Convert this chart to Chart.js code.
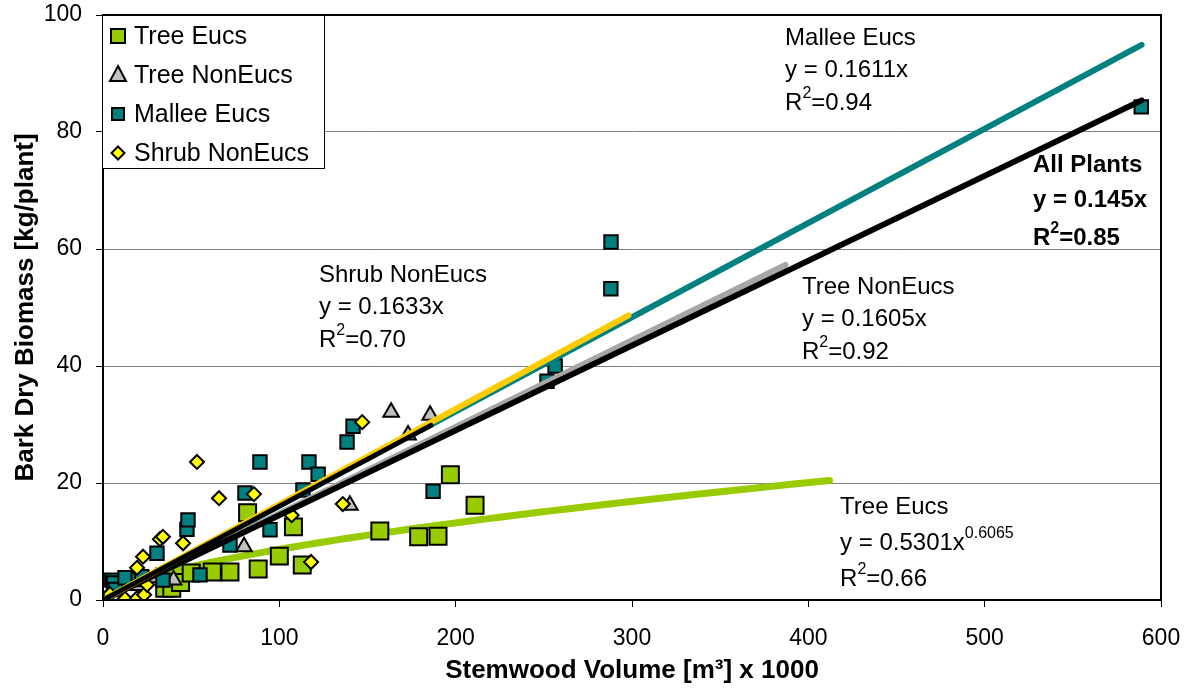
<!DOCTYPE html>
<html>
<head>
<meta charset="utf-8">
<title>Bark Dry Biomass vs Stemwood Volume</title>
<script src="https://cdn.jsdelivr.net/npm/chart.js@4.4.1/dist/chart.umd.min.js"></script>
<style>
  html, body { margin: 0; padding: 0; background: #ffffff; }
  #wrap { width: 1194px; height: 688px; }
</style>
</head>
<body>
<div id="wrap"><canvas id="chart" width="1194" height="688"></canvas></div>
<script>
// ---- Observations: [stemwood volume (m3 x 1000), bark dry biomass (kg/plant)] ----
const treeEucs = [
  [35, 2.0], [39, 2.0], [44, 3.0], [50, 4.6], [62, 4.8], [72, 4.8], [82, 14.9],
  [88, 5.3], [100, 7.5], [108, 12.5], [113, 6.0], [157, 11.8], [179, 10.8],
  [190, 10.9], [197, 21.4], [211, 16.2]
];
const treeNonEucs = [
  [20, 2.5], [30, 3.8], [40, 3.4], [80, 9.1], [140, 16.2], [163.4, 32.1],
  [173, 28.2], [185.5, 31.6]
];
const malleeEucs = [
  [5, 3.4], [6, 2.9], [7, 1.8], [12.5, 3.8], [20, 3.5], [22, 4.0], [30.6, 8.0],
  [34, 3.4], [47.6, 12.1], [48.2, 13.7], [55, 4.3], [72, 9.4], [80.5, 18.3],
  [89, 23.6], [94.7, 12.0], [113.4, 18.8], [116.8, 23.6], [122, 21.5],
  [138.4, 27.0], [141.8, 29.7], [187.2, 18.6], [251.8, 37.4], [256.4, 40.0],
  [288, 53.2], [288.1, 61.2], [588.8, 84.3]
];
const shrubNonEucs = [
  [2, 0.5], [4, 1.0], [12.5, 0.2], [19.3, 0.3], [23.3, 0.9], [25, 2.6],
  [19.3, 5.5], [22.7, 7.4], [32.3, 10.4], [34, 10.8], [45.4, 9.7], [53.3, 23.6],
  [65.8, 17.4], [85.6, 18.1], [107, 14.5], [118, 6.5], [136, 16.4], [147, 30.4]
];

// ---- Fitted trend lines: coefficients and x-range [start, end] ----
const malleeFit = { slope: 0.1611, range: [0, 589] };
const allPlantsFit = { slope: 0.145, range: [0, 589] };
const treeNonEucsFit = { slope: 0.1605, range: [0, 186] };
const treeNonEucsExtended = { slope: 0.148, range: [0, 387] };
const shrubFit = { slope: 0.1633, range: [0, 298] };
const treeEucsFit = { coef: 0.5301, power: 0.6065, range: [2, 412] };

// ---- Axis ticks ----
const xTicks = [0, 100, 200, 300, 400, 500, 600];
const yTicks = [0, 20, 40, 60, 80, 100];

const FONT = "'Liberation Sans', Arial, Helvetica, sans-serif";

const toPoints = arr => arr.map(([x, y]) => ({ x, y }));
const linearLine = f => f.range.map(x => ({ x, y: f.slope * x }));
function powerLine(f) {
  const pts = [];
  const n = 80;
  for (let i = 0; i <= n; i++) {
    const x = f.range[0] + (f.range[1] - f.range[0]) * Math.pow(i / n, 2);
    pts.push({ x, y: f.coef * Math.pow(x, f.power) });
  }
  return pts;
}

const markerStyle = (color, style, radius) => ({
  type: 'scatter',
  showLine: false,
  backgroundColor: color,
  borderColor: '#000000',
  borderWidth: 2,
  pointStyle: style,
  pointRadius: radius,
  pointHoverRadius: radius,
  pointBorderWidth: 2
});
const lineStyle = (color, width) => ({
  type: 'scatter',
  showLine: true,
  borderColor: color,
  backgroundColor: color,
  borderWidth: width,
  borderCapStyle: 'round',
  pointRadius: 0,
  pointHoverRadius: 0,
  fill: false,
  tension: 0
});

const datasets = [
  Object.assign(lineStyle('#99cc00', 7), { label: 'Tree Eucs fit', data: powerLine(treeEucsFit), order: 10 }),
  Object.assign(markerStyle('#99cc00', 'rect', 12), { label: 'Tree Eucs', data: toPoints(treeEucs), order: 9 }),
  Object.assign(markerStyle('#c0c0c0', 'triangle', 9), { label: 'Tree NonEucs', data: toPoints(treeNonEucs), order: 8 }),
  Object.assign(markerStyle('#008080', 'rect', 9.5), { label: 'Mallee Eucs', data: toPoints(malleeEucs), order: 7 }),
  Object.assign(markerStyle('#ffff00', 'rectRot', 7), { label: 'Shrub NonEucs', data: toPoints(shrubNonEucs), order: 6 }),
  Object.assign(lineStyle('#008080', 6), { label: 'Mallee fit', data: linearLine(malleeFit), order: 5 }),
  Object.assign(lineStyle('#a6a6a6', 6), { label: 'Tree NonEucs extended', data: linearLine(treeNonEucsExtended), order: 4 }),
  Object.assign(lineStyle('#000000', 6), { label: 'All Plants fit', data: linearLine(allPlantsFit), order: 3 }),
  Object.assign(lineStyle('#ffcc00', 6), { label: 'Shrub fit', data: linearLine(shrubFit), order: 2 }),
  Object.assign(lineStyle('#000000', 5), { label: 'Tree NonEucs fit', data: linearLine(treeNonEucsFit), order: 1 })
];

// ---- Equation labels (anchor in data units, baseline gaps in px) ----
const equationLabels = [
  { at: [386.8, 94.9], gaps: [32, 33], bold: false,
    lines: [['Mallee Eucs'], ['y = 0.1611x'], ['R', { sup: '2' }, '=0.94']] },
  { at: [527.4, 73.2], gaps: [35, 38], bold: true,
    lines: [['All Plants'], ['y = 0.145x'], ['R', { sup: '2' }, '=0.85']] },
  { at: [122.5, 54.4], gaps: [32, 33], bold: false,
    lines: [['Shrub NonEucs'], ['y = 0.1633x'], ['R', { sup: '2' }, '=0.70']] },
  { at: [396.4, 52.3], gaps: [32, 33], bold: false,
    lines: [['Tree NonEucs'], ['y = 0.1605x'], ['R', { sup: '2' }, '=0.92']] },
  { at: [418, 14.7], gaps: [36, 36], bold: false,
    lines: [['Tree Eucs'], ['y = 0.5301x', { sup: '0.6065' }], ['R', { sup: '2' }, '=0.66']] }
];

// ---- Legend entries ----
const legendEntries = [
  { label: 'Tree Eucs', color: '#99cc00', shape: 'square', size: 14 },
  { label: 'Tree NonEucs', color: '#c0c0c0', shape: 'triangle', size: 16 },
  { label: 'Mallee Eucs', color: '#008080', shape: 'square', size: 12 },
  { label: 'Shrub NonEucs', color: '#ffff00', shape: 'diamond', size: 13 }
];

const plotBorder = {
  id: 'plotBorder',
  afterDatasetsDraw(chart) {
    const { ctx, chartArea: a } = chart;
    ctx.save();
    ctx.strokeStyle = '#000000';
    ctx.lineWidth = 2;
    ctx.strokeRect(a.left, a.top, a.right - a.left, a.bottom - a.top);
    ctx.restore();
  }
};

const equationText = {
  id: 'equationText',
  afterDraw(chart) {
    const { ctx } = chart;
    const xs = chart.scales.x, ys = chart.scales.y;
    ctx.save();
    ctx.fillStyle = '#000000';
    ctx.textBaseline = 'alphabetic';
    ctx.textAlign = 'left';
    equationLabels.forEach(lbl => {
      const weight = lbl.bold ? 'bold ' : '';
      const x0 = xs.getPixelForValue(lbl.at[0]);
      let y = ys.getPixelForValue(lbl.at[1]);
      lbl.lines.forEach((parts, i) => {
        if (i > 0) y += lbl.gaps[i - 1];
        let x = x0;
        parts.forEach(p => {
          if (typeof p === 'string') {
            ctx.font = weight + '24px ' + FONT;
            ctx.fillText(p, x, y);
            x += ctx.measureText(p).width;
          } else {
            ctx.font = weight + '16px ' + FONT;
            ctx.fillText(p.sup, x, y - 12);
            x += ctx.measureText(p.sup).width;
          }
        });
      });
    });
    ctx.restore();
  }
};

const boxLegend = {
  id: 'boxLegend',
  afterDraw(chart) {
    const { ctx, chartArea: a } = chart;
    const left = a.left - 1, top = a.top, w = 223, h = 154;
    ctx.save();
    ctx.fillStyle = '#ffffff';
    ctx.fillRect(left, top, w, h);
    ctx.strokeStyle = '#000000';
    ctx.lineWidth = 1;
    ctx.strokeRect(left + 0.5, top + 0.5, w - 1, h - 1);
    const rowH = 39;
    legendEntries.forEach((e, i) => {
      const cy = top + 21 + i * rowH;
      const cx = left + 16;
      const s = e.size;
      ctx.beginPath();
      if (e.shape === 'square') {
        ctx.rect(cx - s / 2, cy - s / 2, s, s);
      } else if (e.shape === 'triangle') {
        ctx.moveTo(cx, cy - s / 2 - 1);
        ctx.lineTo(cx + s / 2, cy + s / 2 - 2);
        ctx.lineTo(cx - s / 2, cy + s / 2 - 2);
        ctx.closePath();
      } else {
        ctx.moveTo(cx, cy - s / 2);
        ctx.lineTo(cx + s / 2, cy);
        ctx.lineTo(cx, cy + s / 2);
        ctx.lineTo(cx - s / 2, cy);
        ctx.closePath();
      }
      ctx.fillStyle = e.color;
      ctx.fill();
      ctx.lineWidth = 2;
      ctx.strokeStyle = '#000000';
      ctx.stroke();
      ctx.fillStyle = '#000000';
      ctx.font = '25px ' + FONT;
      ctx.textBaseline = 'middle';
      ctx.fillText(e.label, left + 32, cy + 1);
    });
    ctx.restore();
  }
};

new Chart(document.getElementById('chart'), {
  type: 'scatter',
  data: { datasets },
  options: {
    responsive: false,
    devicePixelRatio: 1,
    animation: false,
    layout: { padding: { left: 0, top: 15, right: 33, bottom: 0 } },
    plugins: { legend: { display: false }, tooltip: { enabled: false } },
    scales: {
      x: {
        type: 'linear',
        min: 0, max: 600,
        afterFit: s => { s.height = 88; s.paddingLeft = 0; s.paddingRight = 0; },
        afterBuildTicks: s => { s.ticks = xTicks.map(v => ({ value: v })); },
        ticks: { color: '#000000', font: { family: FONT, size: 23 }, padding: 18, maxRotation: 0 },
        grid: { drawOnChartArea: false, drawTicks: true, tickLength: 7, tickColor: '#000000', tickWidth: 1 },
        border: { display: true, color: '#000000', width: 2 },
        title: {
          display: true,
          text: 'Stemwood Volume [m³] x 1000',
          color: '#000000',
          font: { family: FONT, size: 26, weight: 'bold' },
          padding: { top: 0, bottom: 2 }
        }
      },
      y: {
        type: 'linear',
        min: 0, max: 100,
        afterFit: s => { s.width = 103; s.paddingTop = 0; s.paddingBottom = 0; },
        afterBuildTicks: s => { s.ticks = yTicks.map(v => ({ value: v })); },
        ticks: { color: '#000000', font: { family: FONT, size: 23 }, padding: 14 },
        grid: {
          color: c => (c.tick && (c.tick.value === 0 || c.tick.value === 100)) ? 'rgba(0,0,0,0)' : '#808080',
          lineWidth: 1,
          drawTicks: true,
          tickLength: 7,
          tickColor: '#000000'
        },
        border: { display: true, color: '#000000', width: 2 },
        title: {
          display: true,
          text: 'Bark Dry Biomass [kg/plant]',
          color: '#000000',
          font: { family: FONT, size: 26, weight: 'bold' },
          padding: { top: 10, bottom: 0 }
        }
      }
    }
  },
  plugins: [plotBorder, equationText, boxLegend]
});
</script>
</body>
</html>
